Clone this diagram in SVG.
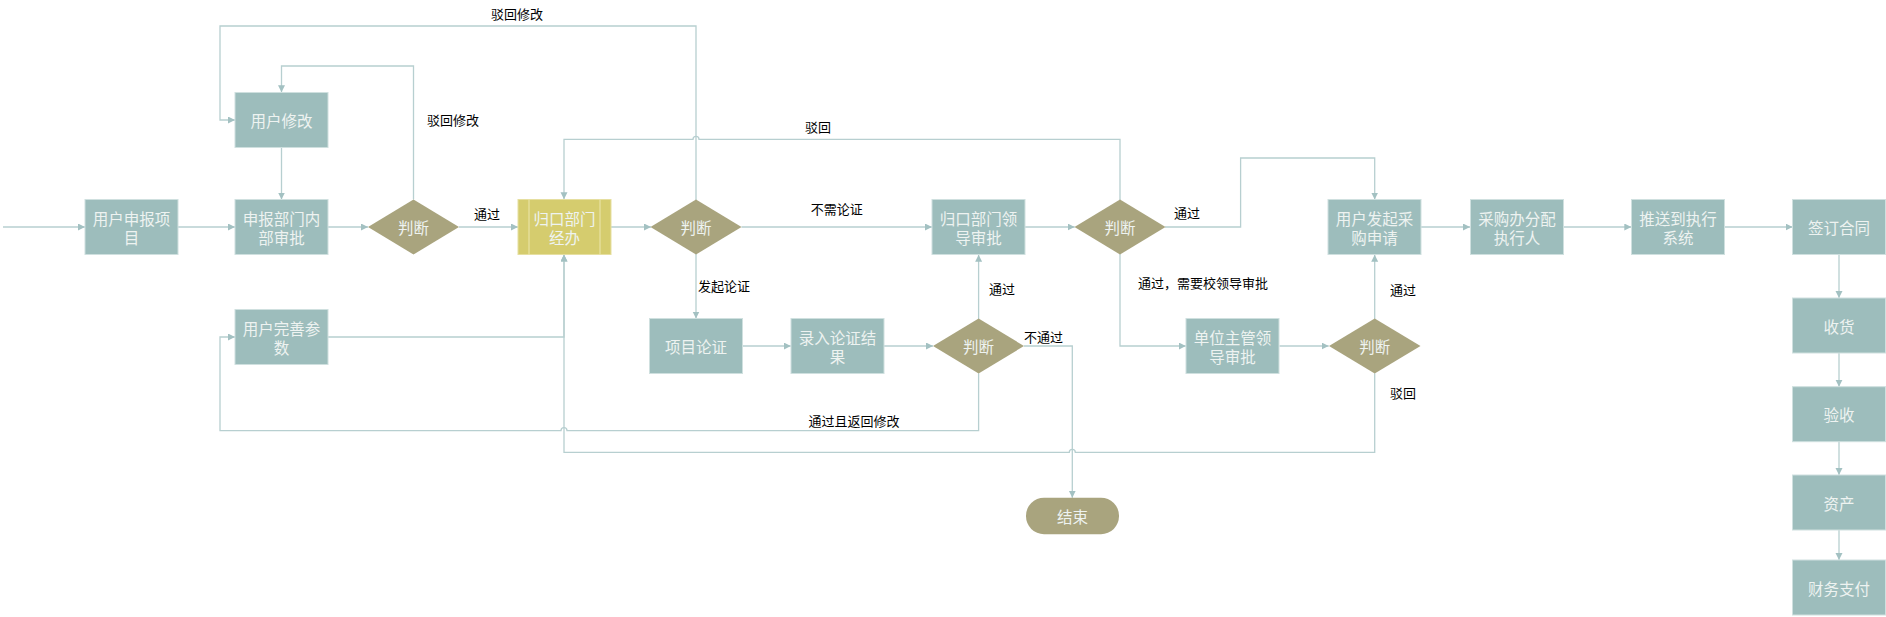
<svg xmlns="http://www.w3.org/2000/svg" width="1886" height="617" viewBox="0 0 1886 617">
<defs>
<marker id="arr" markerUnits="userSpaceOnUse" markerWidth="8" markerHeight="8" refX="7" refY="3.5" orient="auto">
<path d="M0,0 L7,3.5 L0,7 z" fill="#a3c1c2"/>
</marker>
<style>
.box{fill:#9dbdbc;stroke:#cfe0df;stroke-width:1}
.dia{fill:#a9a47e}
.yel{fill:#d5cc6e;stroke:#e6dfa0;stroke-width:1}
.t{font-family:"Noto Sans CJK SC","Microsoft YaHei",sans-serif;font-size:15.5px;fill:#eef3f1;text-anchor:middle;dominant-baseline:central}
.l{font-family:"Noto Sans CJK SC","Microsoft YaHei",sans-serif;font-size:13px;fill:#000;dominant-baseline:central}
.c{fill:none;stroke:#b7cfd0;stroke-width:1.3;marker-end:url(#arr)}
</style>
</defs>
<rect width="1886" height="617" fill="#fff"/>

<g id="connectors">
<path class="c" d="M3,227 L85,227"/>
<path class="c" d="M178,227 L235,227"/>
<path class="c" d="M281.5,147.7 L281.5,199.5"/>
<path class="c" d="M328,227 L368,227"/>
<path class="c" d="M413.5,199.5 L413.5,66 L281.5,66 L281.5,92.3"/>
<path class="c" d="M459,227 L518,227"/>
<path class="c" d="M611,227 L651,227"/>
<path class="c" d="M696,200 L696,26 L220,26 L220,120 L235,120"/>
<path class="c" d="M741.5,227 L932,227"/>
<path class="c" d="M696,254 L696,318.5"/>
<path class="c" d="M742.7,346 L790.8,346"/>
<path class="c" d="M884,346 L933,346"/>
<path class="c" d="M978.6,319 L978.6,254.7"/>
<path class="c" d="M1024,346 L1072.3,346 L1072.3,497.7"/>
<path class="c" d="M978.6,373.3 L978.6,430.7 L567,430.7 A3,3 0 0 0 561,430.7 L220,430.7 L220,337 L235,337"/>
<path class="c" d="M328,337 L564,337 L564,254.5"/>
<path class="c" d="M1024.6,227 L1074.7,227"/>
<path class="c" d="M1120,200 L1120,139.3 L699,139.3 A3,3 0 0 0 693,139.3 L564,139.3 L564,199.3"/>
<path class="c" d="M1165,227 L1240.6,227 L1240.6,158 L1374.7,158 L1374.7,199.5"/>
<path class="c" d="M1120,254 L1120,346 L1185.8,346"/>
<path class="c" d="M1279.4,346 L1328.7,346"/>
<path class="c" d="M1374.7,319 L1374.7,254.7"/>
<path class="c" d="M1374.7,373.3 L1374.7,452.3 L1075.3,452.3 A3,3 0 0 0 1069.3,452.3 L564,452.3 L564,254.5"/>
<path class="c" d="M1421,227 L1470,227"/>
<path class="c" d="M1563.4,227 L1631.3,227"/>
<path class="c" d="M1724.6,227 L1792.6,227"/>
<path class="c" d="M1839,254.5 L1839,298"/>
<path class="c" d="M1839,353 L1839,386.7"/>
<path class="c" d="M1839,441.3 L1839,475"/>
<path class="c" d="M1839,530 L1839,560"/>
<text class="l" x="491" y="13.3">驳回修改</text>
<text class="l" x="427" y="119">驳回修改</text>
<text class="l" x="474" y="213">通过</text>
<text class="l" x="805" y="126">驳回</text>
<text class="l" x="810.7" y="208.3">不需论证</text>
<text class="l" x="698" y="285.7">发起论证</text>
<text class="l" x="989" y="288.7">通过</text>
<text class="l" x="1024" y="336.7">不通过</text>
<text class="l" x="808.6" y="420.7">通过且返回修改</text>
<text class="l" x="1174" y="212.7">通过</text>
<text class="l" x="1138" y="282.7">通过，需要校领导审批</text>
<text class="l" x="1390" y="289.3">通过</text>
<text class="l" x="1390" y="392.3">驳回</text>
</g>

<g id="n_shenbao">
<rect class="box" x="85" y="199.5" width="93" height="55"/>
<text class="t"><tspan x="131.5" y="217.5">用户申报项</tspan><tspan x="131.5" y="236.5">目</tspan></text>
</g>
<g id="n_xiugai">
<rect class="box" x="235" y="92.5" width="93" height="55"/>
<text class="t" x="281.5" y="120">用户修改</text>
</g>
<g id="n_neibu">
<rect class="box" x="235" y="199.5" width="93" height="55"/>
<text class="t"><tspan x="281.5" y="217.5">申报部门内</tspan><tspan x="281.5" y="236.5">部审批</tspan></text>
</g>
<g id="n_wanshan">
<rect class="box" x="235" y="309.5" width="93" height="55"/>
<text class="t"><tspan x="281.5" y="327.5">用户完善参</tspan><tspan x="281.5" y="346.5">数</tspan></text>
</g>
<g id="d1">
<polygon class="dia" points="413.5,199.5 459,227 413.5,254.5 368,227"/>
<text class="t" x="413.5" y="227">判断</text>
</g>
<g id="n_guikou">
<rect class="yel" x="518" y="199.5" width="93" height="55"/>
<line x1="529" y1="199.5" x2="529" y2="254.5" stroke="#ece6ad" stroke-width="1"/>
<line x1="600" y1="199.5" x2="600" y2="254.5" stroke="#ece6ad" stroke-width="1"/>
<text class="t"><tspan x="564.5" y="217.5">归口部门</tspan><tspan x="564.5" y="236.5">经办</tspan></text>
</g>
<g id="d2">
<polygon class="dia" points="696,199.5 741.5,227 696,254.5 650.5,227"/>
<text class="t" x="696" y="227">判断</text>
</g>
<g id="n_lunzheng">
<rect class="box" x="649.5" y="318.5" width="93" height="55"/>
<text class="t" x="696" y="346">项目论证</text>
</g>
<g id="n_luru">
<rect class="box" x="791" y="318.5" width="93" height="55"/>
<text class="t"><tspan x="837.5" y="336.5">录入论证结</tspan><tspan x="837.5" y="355.5">果</tspan></text>
</g>
<g id="d4">
<polygon class="dia" points="978.6,318.5 1024,346 978.6,373.5 933,346"/>
<text class="t" x="978.6" y="346">判断</text>
</g>
<g id="n_lingdao">
<rect class="box" x="932" y="199.5" width="93" height="55"/>
<text class="t"><tspan x="978.5" y="217.5">归口部门领</tspan><tspan x="978.5" y="236.5">导审批</tspan></text>
</g>
<g id="n_end">
<rect x="1026" y="497.7" width="93" height="36.5" rx="18" fill="#a9a47e"/>
<text class="t" x="1072.5" y="516">结束</text>
</g>
<g id="d3">
<polygon class="dia" points="1120,199.5 1165.5,227 1120,254.5 1074.5,227"/>
<text class="t" x="1120" y="227">判断</text>
</g>
<g id="n_danwei">
<rect class="box" x="1186" y="318.5" width="93" height="55"/>
<text class="t"><tspan x="1232.5" y="336.5">单位主管领</tspan><tspan x="1232.5" y="355.5">导审批</tspan></text>
</g>
<g id="d5">
<polygon class="dia" points="1374.7,318.5 1420.5,346 1374.7,373.5 1329,346"/>
<text class="t" x="1374.7" y="346">判断</text>
</g>
<g id="n_caigou">
<rect class="box" x="1328" y="199.5" width="93" height="55"/>
<text class="t"><tspan x="1374.5" y="217.5">用户发起采</tspan><tspan x="1374.5" y="236.5">购申请</tspan></text>
</g>
<g id="n_fenpei">
<rect class="box" x="1470.5" y="199.5" width="93" height="55"/>
<text class="t"><tspan x="1517" y="217.5">采购办分配</tspan><tspan x="1517" y="236.5">执行人</tspan></text>
</g>
<g id="n_tuisong">
<rect class="box" x="1631.5" y="199.5" width="93" height="55"/>
<text class="t"><tspan x="1678" y="217.5">推送到执行</tspan><tspan x="1678" y="236.5">系统</tspan></text>
</g>
<g id="n_hetong">
<rect class="box" x="1792.5" y="199.5" width="93" height="55"/>
<text class="t" x="1839" y="227">签订合同</text>
</g>
<g id="n_shouhuo">
<rect class="box" x="1792.5" y="298" width="93" height="55"/>
<text class="t" x="1839" y="325.5">收货</text>
</g>
<g id="n_yanshou">
<rect class="box" x="1792.5" y="386.7" width="93" height="55"/>
<text class="t" x="1839" y="414">验收</text>
</g>
<g id="n_zichan">
<rect class="box" x="1792.5" y="475" width="93" height="55"/>
<text class="t" x="1839" y="502.5">资产</text>
</g>
<g id="n_caiwu">
<rect class="box" x="1792.5" y="560" width="93" height="55"/>
<text class="t" x="1839" y="587.5">财务支付</text>
</g>
</svg>
